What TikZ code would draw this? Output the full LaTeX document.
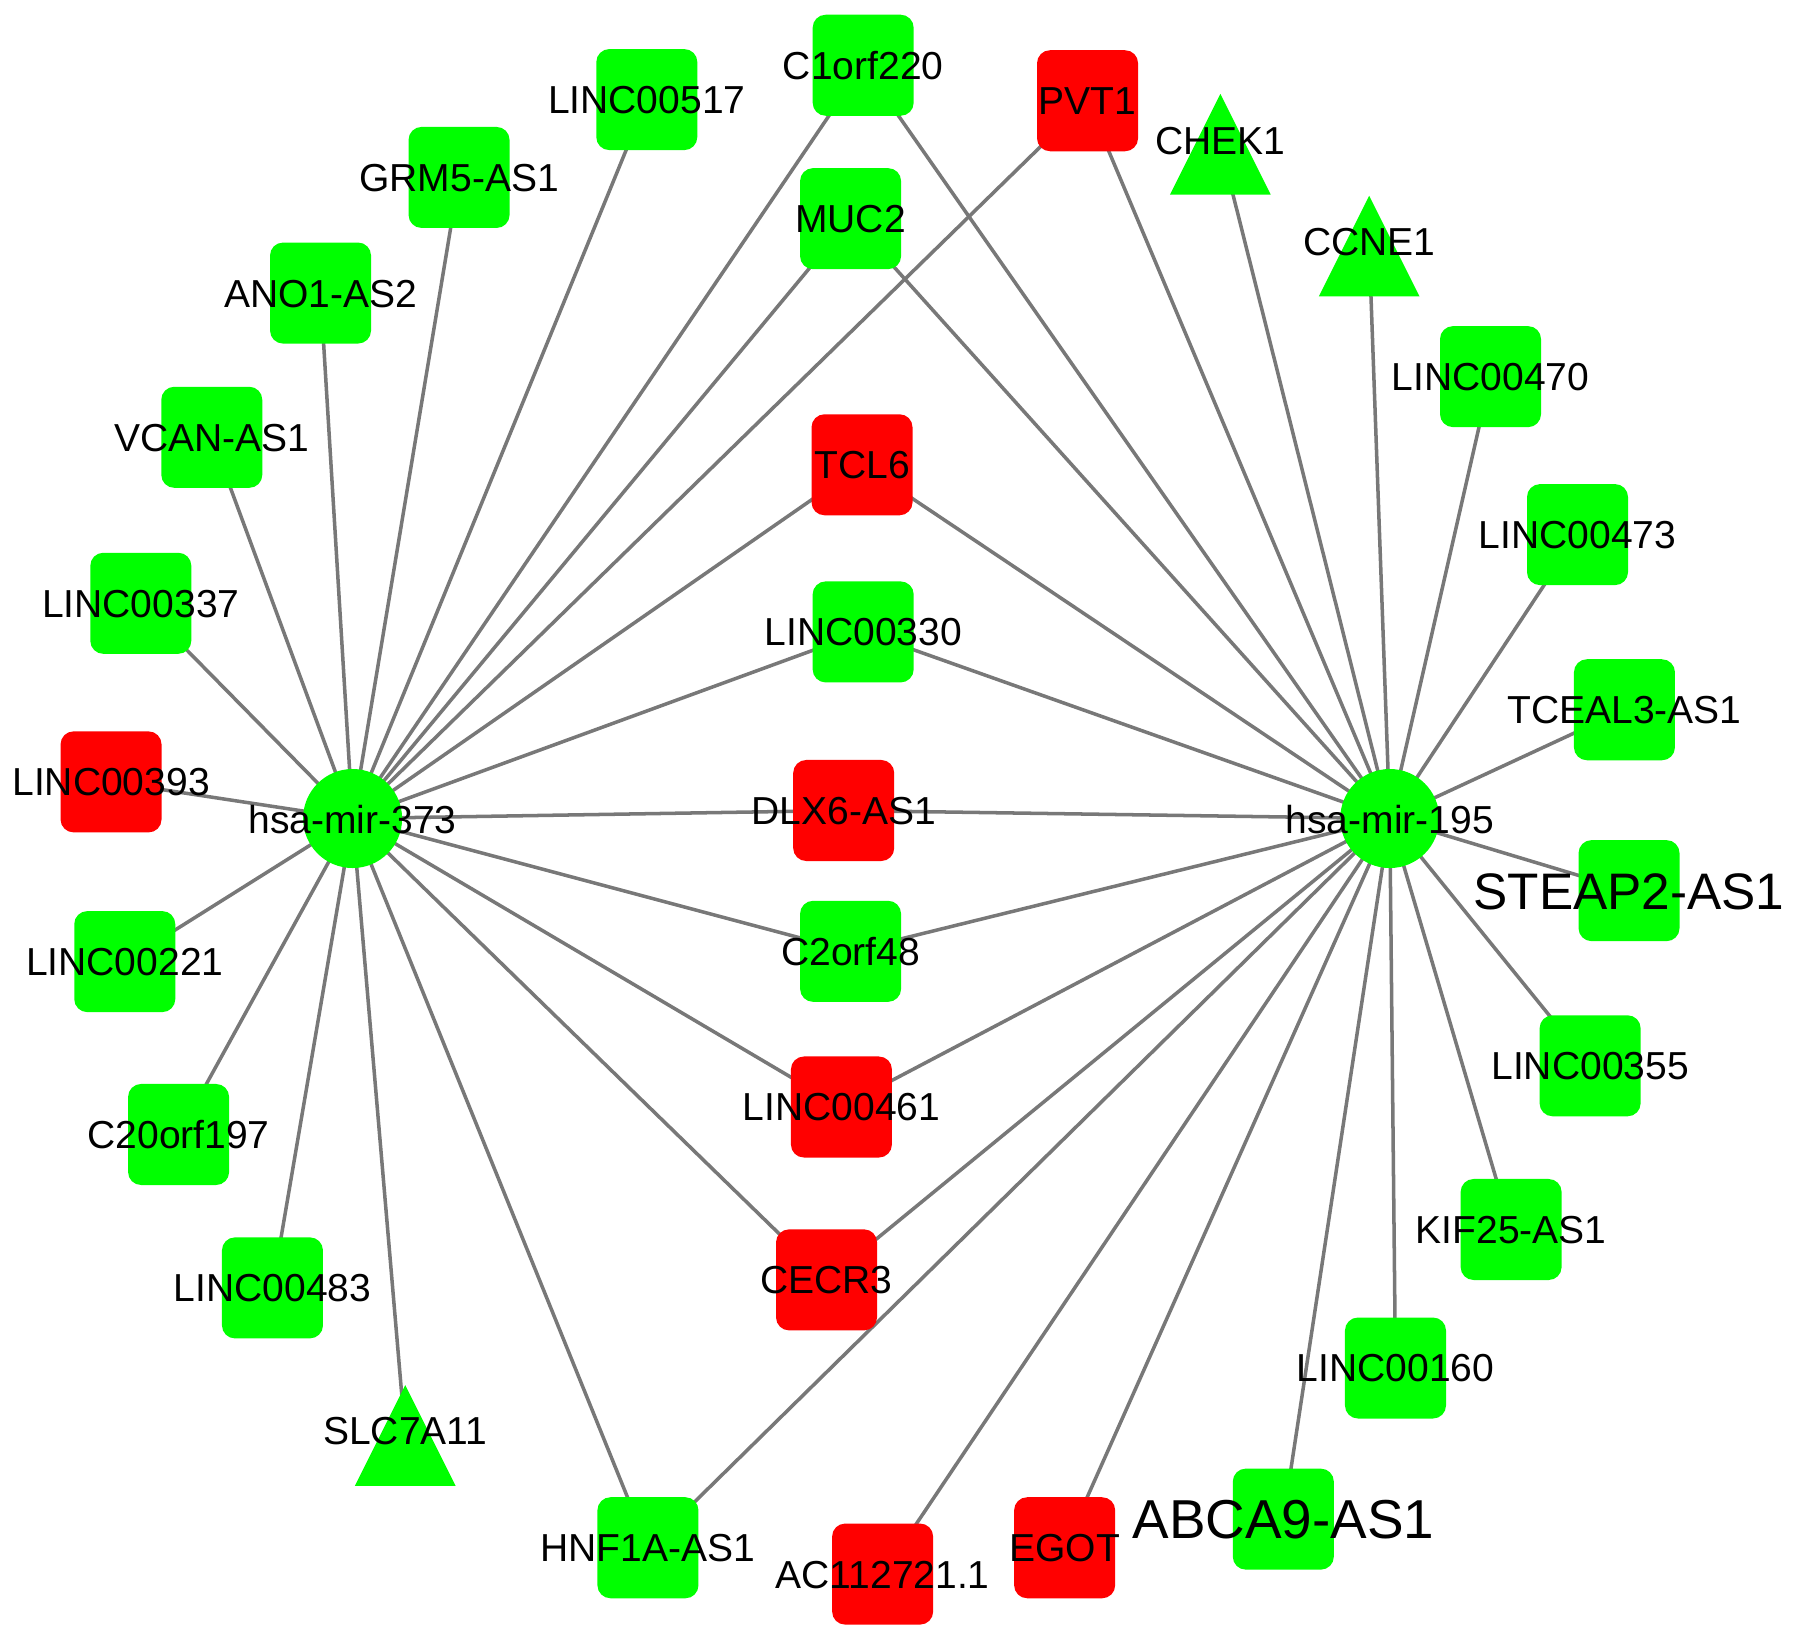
\documentclass[tikz,border=0pt]{standalone}
\usepackage{fontspec}
\setmainfont{Liberation Sans}
\usetikzlibrary{backgrounds}
\definecolor{gfill}{HTML}{00FF00}
\definecolor{rfill}{HTML}{FF0000}
\definecolor{edgec}{HTML}{787878}
\tikzset{
 gbox/.style={rectangle, rounded corners=0.13cm, minimum size=1.01cm, inner sep=0pt, fill=gfill},
 rbox/.style={gbox, fill=rfill},
 mirna/.style={circle, minimum size=0.99cm, inner sep=0pt, fill=gfill},
 trifill/.style={fill=gfill},
 lbl/.style={inner sep=0pt, font=\fontsize{11.1pt}{13pt}\selectfont, text height=7.95pt, text depth=0pt},
 biglbl/.style={inner sep=0pt, font=\fontsize{14.6pt}{17pt}\selectfont, text height=10.45pt, text depth=0pt},
 hugelbl/.style={inner sep=0pt, font=\fontsize{15.6pt}{18pt}\selectfont, text height=11.2pt, text depth=0pt},
 edge/.style={draw=edgec, line width=1pt},
}
\begin{document}
\begin{tikzpicture}[x=0.011448cm, y=-0.011448cm]
\useasboundingbox (0,0) rectangle (1568,1433);

% hubs
\node[mirna] (mir373) at (308,715) {};
\node[mirna] (mir195) at (1214,715) {};

% boxes
\node[gbox] (c1orf220) at (754,57) {};
\node[gbox] (linc00517) at (565,87) {};
\node[gbox] (grm5as1) at (401,155) {};
\node[gbox] (ano1as2) at (280,256) {};
\node[gbox] (vcanas1) at (185,382) {};
\node[gbox] (linc00337) at (123,527) {};
\node[rbox] (linc00393) at (97,683) {};
\node[gbox] (linc00221) at (109,840) {};
\node[gbox] (c20orf197) at (156,991) {};
\node[gbox] (linc00483) at (238,1125) {};
\node[gbox] (hnf1aas1) at (566,1352) {};
\node[rbox] (ac112721) at (771,1375) {};
\node[rbox] (egot) at (930,1352) {};
\node[gbox] (abca9as1) at (1121,1327) {};
\node[gbox] (linc00160) at (1219,1195) {};
\node[gbox] (kif25as1) at (1320,1074) {};
\node[gbox] (linc00355) at (1389,931) {};
\node[gbox] (steap2as1) at (1423,778) {};
\node[gbox] (tceal3as1) at (1419,620) {};
\node[gbox] (linc00473) at (1378,467) {};
\node[gbox] (linc00470) at (1302,329) {};
\node[rbox] (pvt1) at (950,88) {};
\node[gbox] (muc2) at (743,191) {};
\node[rbox] (tcl6) at (753,406) {};
\node[gbox] (linc00330) at (754,552) {};
\node[rbox] (dlx6as1) at (737,708) {};
\node[gbox] (c2orf48) at (743,831) {};
\node[rbox] (linc00461) at (735,967) {};
\node[rbox] (cecr3) at (722,1118) {};

% triangles
\coordinate (chek1) at (1066,126);
\coordinate (ccne1) at (1196,215);
\coordinate (slc7a11) at (354,1254);
\foreach \t in {chek1,ccne1,slc7a11}
  \fill[trifill, shift={(\t)}] (0,-44) -- (44,44) -- (-44,44) -- cycle;

% edges
\begin{scope}[on background layer]
\foreach \t in {linc00517,c1orf220,grm5as1,ano1as2,vcanas1,linc00337,linc00393,linc00221,c20orf197,linc00483,slc7a11,hnf1aas1,muc2,pvt1,tcl6,linc00330,dlx6as1,c2orf48,linc00461,cecr3}
  \draw[edge] (mir373.center) -- (\t.center);
\foreach \t in {c1orf220,muc2,pvt1,chek1,ccne1,linc00470,linc00473,tceal3as1,steap2as1,linc00355,kif25as1,linc00160,abca9as1,egot,ac112721,hnf1aas1,cecr3,linc00461,c2orf48,dlx6as1,linc00330,tcl6}
  \draw[edge] (mir195.center) -- (\t.center);
\end{scope}

% labels
\node[lbl] (mir373-t) at (308,716) {hsa-mir-373};
\node[lbl] (mir195-t) at (1214,716) {hsa-mir-195};
\node[lbl] (c1orf220-t) at (c1orf220) {C1orf220};
\node[lbl] (linc00517-t) at (linc00517) {LINC00517};
\node[lbl] (grm5as1-t) at (grm5as1) {GRM5-AS1};
\node[lbl] (ano1as2-t) at (ano1as2) {ANO1-AS2};
\node[lbl] (vcanas1-t) at (vcanas1) {VCAN-AS1};
\node[lbl] (linc00337-t) at (linc00337) {LINC00337};
\node[lbl] (linc00393-t) at (linc00393) {LINC00393};
\node[lbl] (linc00221-t) at (linc00221) {LINC00221};
\node[lbl] (c20orf197-t) at (c20orf197) {C20orf197};
\node[lbl] (linc00483-t) at (linc00483) {LINC00483};
\node[lbl] (slc7a11-t) at (354,1250) {SLC7A11};
\node[lbl] (hnf1aas1-t) at (hnf1aas1) {HNF1A-AS1};
\node[lbl] (ac112721-t) at (ac112721) {AC112721.1};
\node[lbl] (egot-t) at (egot) {EGOT};
\node[hugelbl] (abca9as1-t) at (abca9as1) {ABCA9-AS1};
\node[lbl] (linc00160-t) at (linc00160) {LINC00160};
\node[lbl] (kif25as1-t) at (kif25as1) {KIF25-AS1};
\node[lbl] (linc00355-t) at (linc00355) {LINC00355};
\node[biglbl] (steap2as1-t) at (steap2as1) {STEAP2-AS1};
\node[lbl] (tceal3as1-t) at (tceal3as1) {TCEAL3-AS1};
\node[lbl] (linc00473-t) at (linc00473) {LINC00473};
\node[lbl] (linc00470-t) at (linc00470) {LINC00470};
\node[lbl] (ccne1-t) at (1196,211) {CCNE1};
\node[lbl] (chek1-t) at (1066,123) {CHEK1};
\node[lbl] (pvt1-t) at (pvt1) {PVT1};
\node[lbl] (muc2-t) at (muc2) {MUC2};
\node[lbl] (tcl6-t) at (tcl6) {TCL6};
\node[lbl] (linc00330-t) at (linc00330) {LINC00330};
\node[lbl] (dlx6as1-t) at (dlx6as1) {DLX6-AS1};
\node[lbl] (c2orf48-t) at (c2orf48) {C2orf48};
\node[lbl] (linc00461-t) at (linc00461) {LINC00461};
\node[lbl] (cecr3-t) at (cecr3) {CECR3};
\end{tikzpicture}
\end{document}
